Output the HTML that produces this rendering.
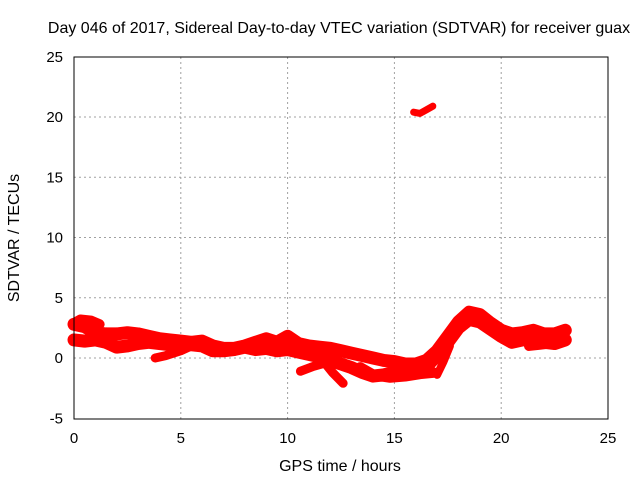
<!DOCTYPE html>
<html><head><meta charset="utf-8"><style>
body{margin:0;background:#fff}
svg text{font-family:"Liberation Sans",sans-serif;font-size:15px;fill:#000}
svg text.big{font-size:16px}
</style></head><body>
<svg id="chart" width="640" height="480" xmlns="http://www.w3.org/2000/svg">
<rect width="640" height="480" fill="#fff"/>
<text class="big" x="339" y="33" text-anchor="middle">Day 046 of 2017, Sidereal Day-to-day VTEC variation (SDTVAR) for receiver guax</text>
<g id="grid"></g>
<g id="series"></g>
<rect x="74" y="57" width="534" height="362" fill="none" stroke="#000" stroke-width="1"/>
<g id="ticks"></g>
<text class="big" x="340" y="471" text-anchor="middle">GPS time / hours</text>
<text class="big" x="0" y="0" text-anchor="middle" transform="translate(19,238) rotate(-90)">SDTVAR / TECUs</text>
</svg>
<script>
const xTicks=[0,5,10,15,20,25];
const yTicks=[-5,0,5,10,15,20,25];
const hoursMain=[0,0.5,1,1.5,2,2.5,3,3.5,4,4.5,5,5.5,6,6.5,7,7.5,8,8.5,9,9.5,10,10.5,11,11.5,12,12.5,13,13.5,14,14.5,15,15.5,16,16.5,17,17.5,18,18.5,19,19.5,20,20.5,21,21.5,22,22.5,23];
const upperBand=[2.8,2.6,2.1,2.0,2.0,2.1,2.0,1.8,1.6,1.5,1.4,1.3,1.4,1.0,0.8,0.8,1.0,1.3,1.6,1.3,1.8,1.2,1.0,0.9,0.8,0.6,0.4,0.2,0.0,-0.2,-0.3,-0.5,-0.5,-0.2,0.6,1.8,3.0,3.8,3.6,2.9,2.3,2.0,2.1,2.3,2.0,2.0,2.3];
const lowerBand=[1.5,1.4,1.5,1.3,0.9,1.0,1.2,1.3,1.2,1.1,1.2,1.1,1.0,0.6,0.6,0.7,0.9,0.7,0.8,0.6,0.7,0.5,0.3,0.1,-0.2,-0.5,-0.8,-1.2,-1.5,-1.4,-1.2,-1.0,-0.8,-0.7,0.2,1.3,2.5,3.2,3.0,2.4,1.8,1.3,1.5,1.5,1.3,1.2,1.5];
const spur1Hours=[1.8,2.5,3.2];
const spur1Vals=[0.9,1.1,1.5];
const spur2Hours=[3.8,4.3,5.0,5.5];
const spur2Vals=[0.0,0.2,0.6,1.0];
const spur3Hours=[10.6,11.2,11.8,12.3];
const spur3Vals=[-1.1,-0.7,-0.4,-0.2];
const spur4Hours=[11.6,12.1,12.6];
const spur4Vals=[-0.1,-1.2,-2.1];
const spur5Hours=[13.4,14.0,14.8,15.5,16.2,16.8];
const spur5Vals=[-0.8,-1.4,-1.6,-1.5,-1.3,-1.2];
const spur6Hours=[17.0,17.3,17.6];
const spur6Vals=[-1.4,-0.3,1.0];
const isoHours=[15.9,16.2,16.5,16.8];
const isoVals=[20.4,20.3,20.6,20.9];
const upperExtraHours=[0,0.3,0.8,1.2];
const upperExtraVals=[2.9,3.2,3.1,2.8];
const loopHours=[21.3,21.8,22.3,22.8];
const loopVals=[1.0,1.1,1.2,1.5];

const NS="http://www.w3.org/2000/svg";
const X=h=>74+h*534/25;
const Y=v=>358-v*12.05;
const grid=document.getElementById('grid'),ticks=document.getElementById('ticks'),ser=document.getElementById('series');
xTicks.forEach(t=>{
  if(t>0&&t<25){const l=document.createElementNS(NS,'line');
  
  
  l.setAttribute('x1',X(t));l.setAttribute('x2',X(t));l.setAttribute('y1',57);l.setAttribute('y2',419);
  l.setAttribute('stroke','#a0a0a0');l.setAttribute('stroke-dasharray','2,3');grid.appendChild(l);}
  const tx=document.createElementNS(NS,'text');
  
  
  tx.setAttribute('x',X(t));tx.setAttribute('y',443);tx.setAttribute('text-anchor','middle');tx.textContent=t;ticks.appendChild(tx);
});
yTicks.forEach(t=>{
  if(t>-5&&t<25){const l=document.createElementNS(NS,'line');
  
  
  l.setAttribute('x1',74);l.setAttribute('x2',608);l.setAttribute('y1',Y(t));l.setAttribute('y2',Y(t));
  l.setAttribute('stroke','#a0a0a0');l.setAttribute('stroke-dasharray','2,3');grid.appendChild(l);}
  const tx=document.createElementNS(NS,'text');
  
  
  tx.setAttribute('x',63);tx.setAttribute('y',Y(t)+5);tx.setAttribute('text-anchor','end');tx.textContent=t;ticks.appendChild(tx);
});
function track(hs,vs,name,w){
  const p=document.createElementNS(NS,'polyline');
  
  
  p.setAttribute('points',hs.map((h,i)=>X(h)+','+Y(vs[i])).join(' '));
  p.setAttribute('fill','none');p.setAttribute('stroke','#ff0000');p.setAttribute('stroke-width',w);
  p.setAttribute('stroke-linejoin','round');p.setAttribute('stroke-linecap','round');
  ser.appendChild(p);
}
track(hoursMain,upperBand,'upper-band',13);
track(hoursMain,lowerBand,'lower-band',13);
track(spur1Hours,spur1Vals,'spur-track',9);
track(spur2Hours,spur2Vals,'spur-track',9);
track(spur3Hours,spur3Vals,'spur-track',9);
track(spur4Hours,spur4Vals,'spur-track',9);
track(spur5Hours,spur5Vals,'spur-track',11);
track(spur6Hours,spur6Vals,'spur-track',8);
track(isoHours,isoVals,'isolated-track',7);
track(upperExtraHours,upperExtraVals,'spur-track',10);
track(loopHours,loopVals,'spur-track',10);
</script>
</body></html>
